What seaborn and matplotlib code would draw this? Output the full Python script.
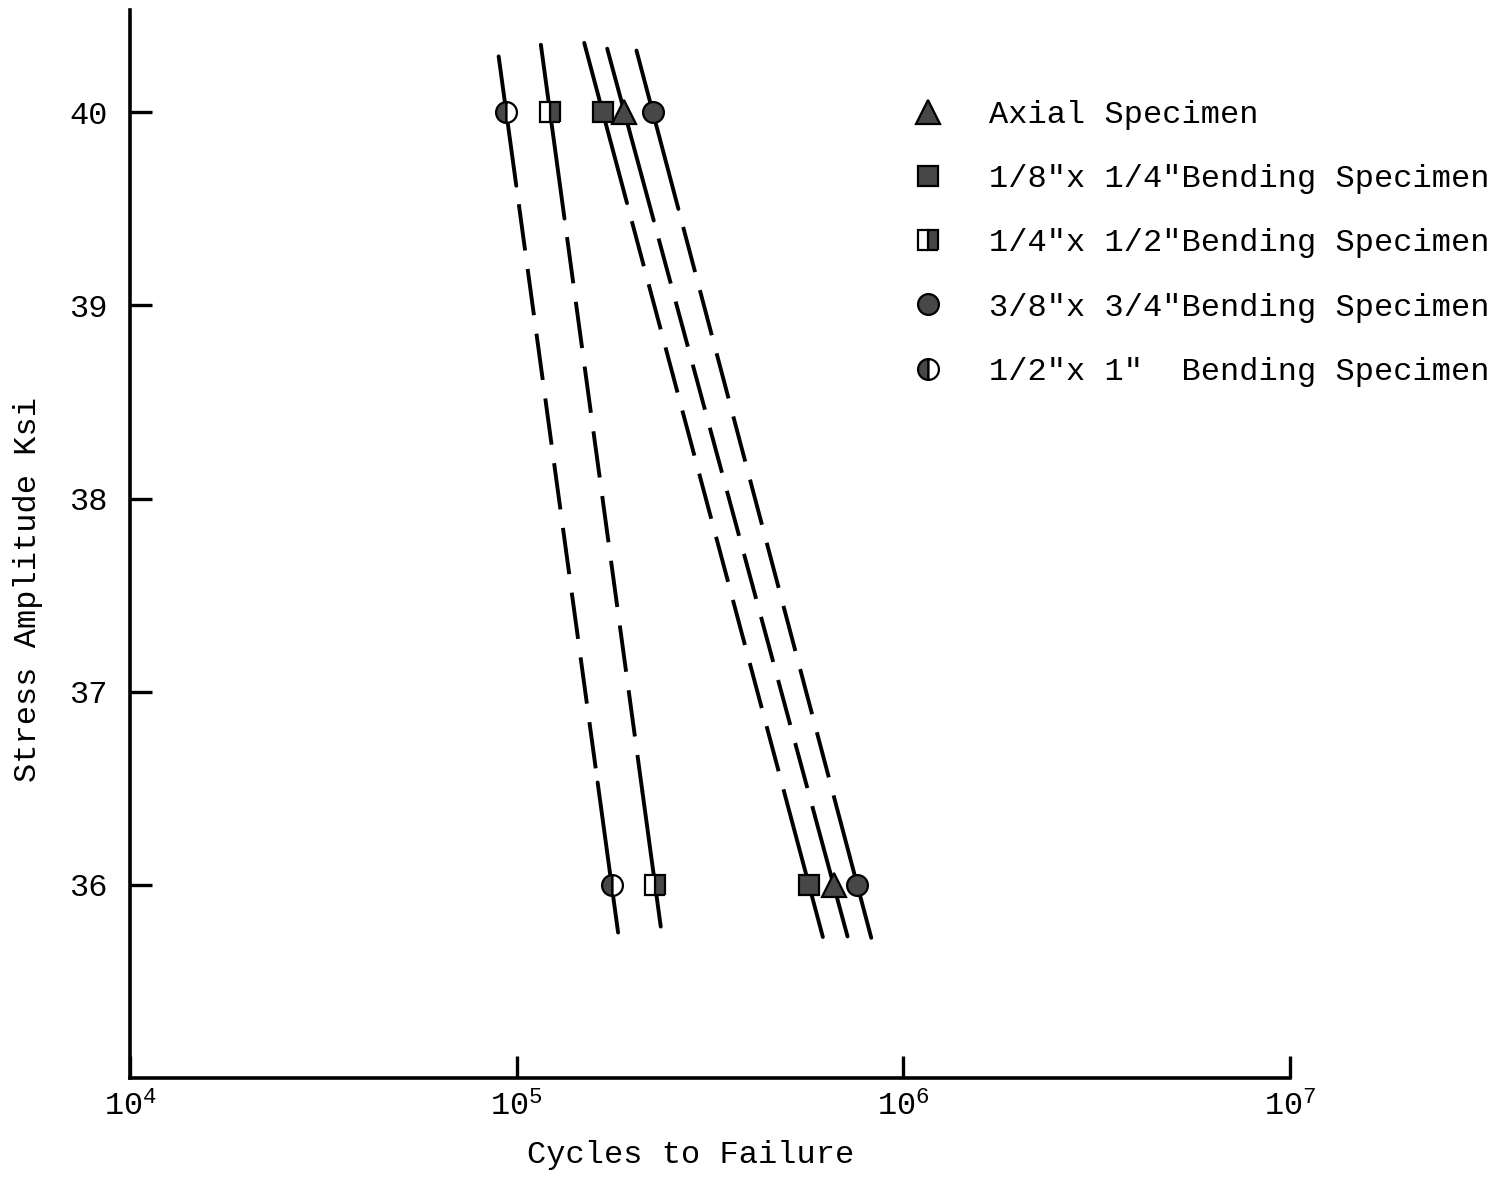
import numpy as np
import matplotlib
matplotlib.use("Agg")
import matplotlib.pyplot as plt
from matplotlib.lines import Line2D
from matplotlib.ticker import FixedLocator, NullLocator
from matplotlib.font_manager import FontProperties
import seaborn as sns

# ---------------- data ----------------
series_labels = [
    "Axial Specimen",
    '1/8"x 1/4"Bending Specimen',
    '1/4"x 1/2"Bending Specimen',
    '3/8"x 3/4"Bending Specimen',
    '1/2"x 1"  Bending Specimen',
]
stress_levels = [40, 36]                 # ksi
cycles_axial = [1.90e5, 6.6e5]
cycles_eighth = [1.67e5, 5.7e5]
cycles_quarter = [1.22e5, 2.28e5]
cycles_three_eighth = [2.25e5, 7.6e5]
cycles_half = [9.4e4, 1.76e5]
all_cycles = [cycles_axial, cycles_eighth, cycles_quarter, cycles_three_eighth, cycles_half]

x_ticks = [1e4, 1e5, 1e6, 1e7]
x_tick_labels = [r"$\mathregular{10^{4}}$", r"$\mathregular{10^{5}}$",
                 r"$\mathregular{10^{6}}$", r"$\mathregular{10^{7}}$"]
y_ticks = [36, 37, 38, 39, 40]
y_tick_labels = ["36", "37", "38", "39", "40"]

# ---------------- style ----------------
sns.set_theme(style="white")
FONT = ["Liberation Mono", "DejaVu Sans"]
plt.rcParams["font.family"] = FONT
plt.rcParams["mathtext.fontset"] = "custom"
plt.rcParams["mathtext.rm"] = "Liberation Mono"
plt.rcParams["mathtext.it"] = "Liberation Mono"
plt.rcParams["mathtext.bf"] = "Liberation Mono"
plt.rcParams["text.color"] = "black"
plt.rcParams["axes.labelcolor"] = "black"
plt.rcParams["xtick.color"] = "black"
plt.rcParams["ytick.color"] = "black"
FS = 23

marker_styles = [
    dict(marker="^", ms=17, fillstyle="full"),
    dict(marker="s", ms=14, fillstyle="full"),
    dict(marker="s", ms=14, fillstyle="right"),
    dict(marker="o", ms=15, fillstyle="full"),
    dict(marker="o", ms=15, fillstyle="left"),
]
# stress extents of each fitted line: top end, end of top solid part,
# start of bottom solid part, bottom end
line_extents = [
    (40.33, 39.44, 36.35, 35.733),
    (40.36, 39.53, 36.34, 35.730),
    (40.35, 39.45, 36.48, 35.784),
    (40.32, 39.50, 36.32, 35.726),
    (40.29, 39.62, 36.53, 35.753),
]
LW = 2.8
DASH = (12.0, 4.8)

fig = plt.figure(figsize=(15, 11.77), dpi=100)
ax = fig.add_axes([130 / 1500, 1 - 1078 / 1177, 1160 / 1500, 1068 / 1177])
ax.set_xscale("log")
ax.set_xlim(1e4, 1e7)
ax.set_ylim(35.0, 40.53)

for cycles, ext, mst in zip(all_cycles, line_extents, marker_styles):
    coef = np.polyfit(stress_levels, np.log10(cycles), 1)
    top, s_end, d_end, bot = ext
    segs = [
        (np.array([top, s_end]), "-"),
        (np.array([s_end, d_end]), (DASH[0], DASH)),
        (np.array([d_end, bot]), "-"),
    ]
    for s, ls in segs:
        xs = 10 ** np.polyval(coef, s)
        sns.lineplot(x=xs, y=s, ax=ax, color="black", lw=LW, linestyle=ls,
                     sort=False, estimator=None, legend=False)
    ax.plot(cycles, stress_levels, linestyle="none", marker=mst["marker"],
            ms=mst["ms"], fillstyle=mst["fillstyle"], markerfacecolor="#474747",
            markerfacecoloralt="white", markeredgecolor="black", mew=1.6,
            zorder=4, clip_on=False)

# axes styling
for side in ["top", "right"]:
    ax.spines[side].set_visible(False)
for side in ["left", "bottom"]:
    ax.spines[side].set_linewidth(2.6)
    ax.spines[side].set_color("black")

ax.xaxis.set_major_locator(FixedLocator(x_ticks))
ax.xaxis.set_minor_locator(NullLocator())
ax.set_xticklabels(x_tick_labels)
ax.set_yticks(y_ticks)
ax.set_yticklabels(y_tick_labels)
ax.tick_params(axis="both", which="major", direction="in", length=16, width=2.4,
               color="black", labelsize=FS, labelcolor="black",
               bottom=True, left=True, top=False, right=False)
ax.tick_params(axis="x", pad=10)
ax.tick_params(axis="y", pad=16)
ax.grid(False)

ax.set_xlabel("Cycles to Failure", fontsize=FS, color="black")
ax.set_ylabel("Stress Amplitude Ksi", fontsize=FS, color="black")
ax.xaxis.set_label_coords((691 - 130) / 1160, -0.058)
ax.yaxis.set_label_coords(-0.075, (1078 - 590) / 1068)

handles = [
    Line2D([], [], linestyle="none", marker=m["marker"], ms=m["ms"],
           fillstyle=m["fillstyle"], markerfacecolor="#474747",
           markerfacecoloralt="white", markeredgecolor="black", mew=1.6)
    for m in marker_styles
]
leg = ax.legend(handles, series_labels, loc="upper left",
                bbox_to_anchor=(912 / 1500, 1 - 100 / 1177), bbox_transform=fig.transFigure,
                frameon=False, handlelength=1.0, handletextpad=1.4, labelspacing=1.07,
                borderpad=0, borderaxespad=0, prop=FontProperties(family=FONT, size=FS))
for t in leg.get_texts():
    t.set_color("black")

fig.savefig("out.png", dpi=100, facecolor="white")
